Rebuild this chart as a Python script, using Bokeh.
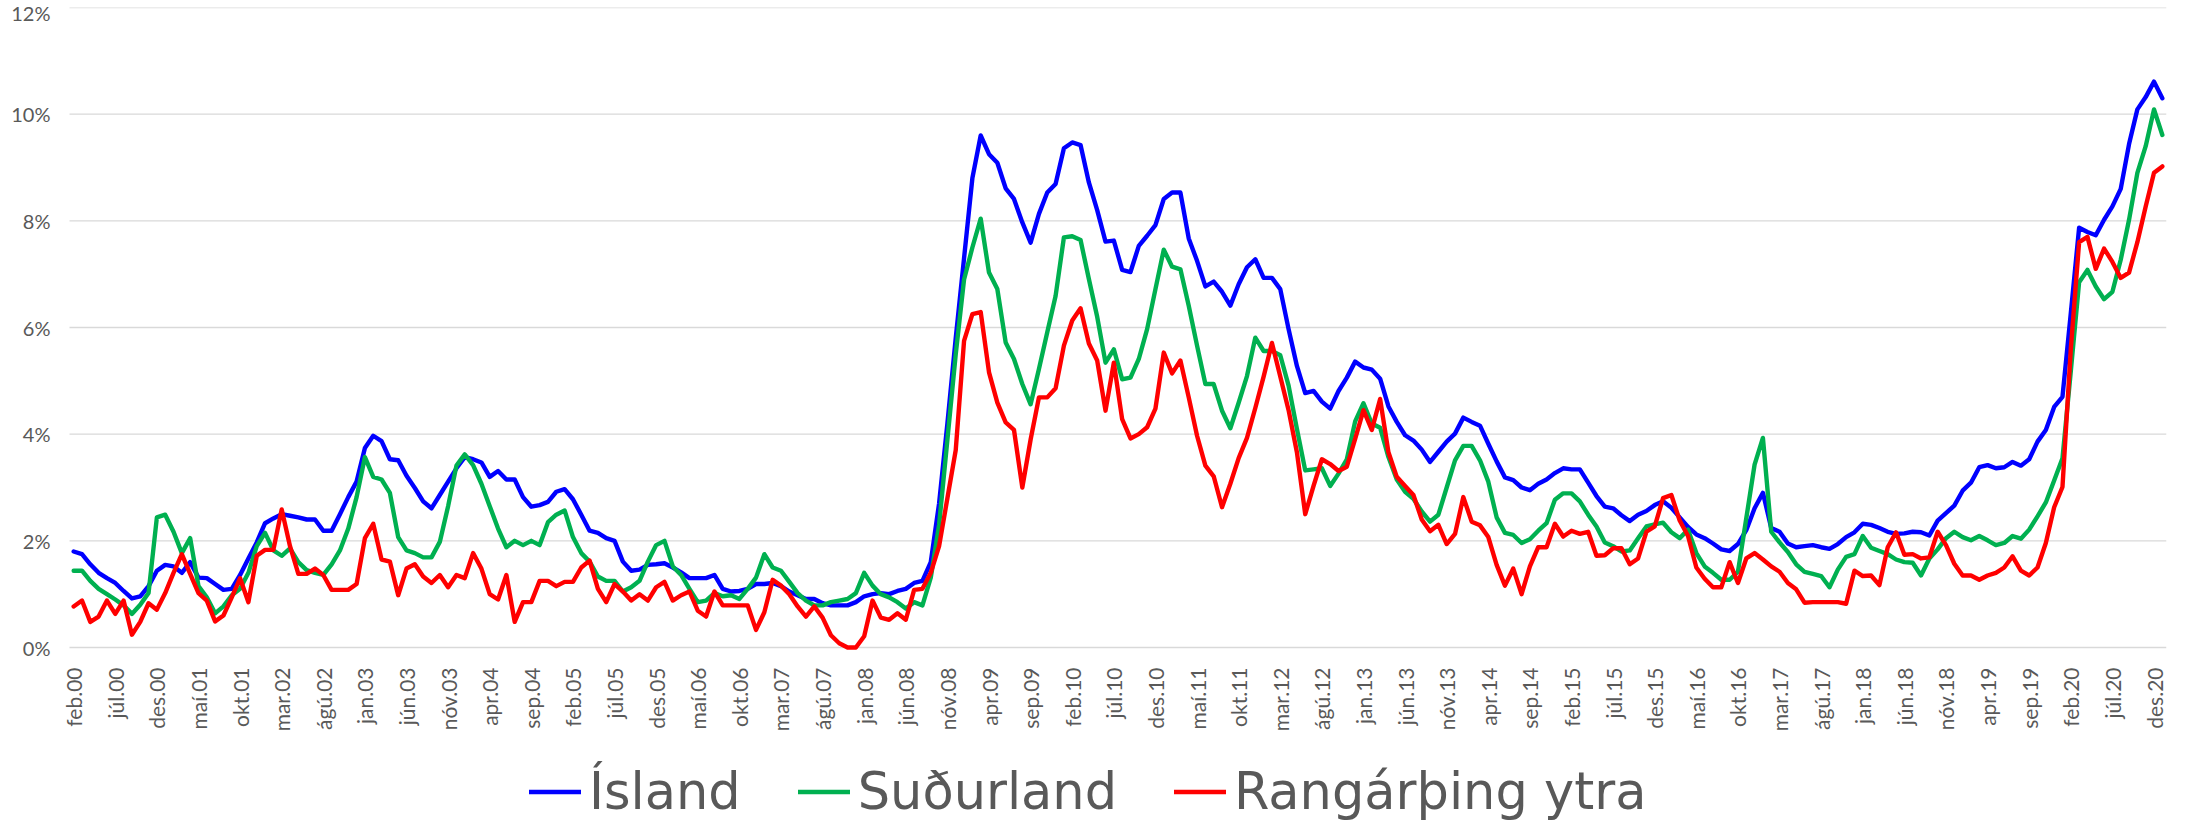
import math
from bokeh.plotting import figure
from bokeh.models import ColumnDataSource, FixedTicker, Legend, LegendItem, Range1d
from bokeh.core.properties import value
from bokeh.embed import file_html
from bokeh.resources import INLINE

# Tick labels (every 5th month, starting feb.00)
month_labels = [
    "feb.00", "júl.00", "des.00", "maí.01", "okt.01", "mar.02", "ágú.02", "jan.03",
    "jún.03", "nóv.03", "apr.04", "sep.04", "feb.05", "júl.05", "des.05", "maí.06",
    "okt.06", "mar.07", "ágú.07", "jan.08", "jún.08", "nóv.08", "apr.09", "sep.09",
    "feb.10", "júl.10", "des.10", "maí.11", "okt.11", "mar.12", "ágú.12", "jan.13",
    "jún.13", "nóv.13", "apr.14", "sep.14", "feb.15", "júl.15", "des.15", "maí.16",
    "okt.16", "mar.17", "ágú.17", "jan.18", "jún.18", "nóv.18", "apr.19", "sep.19",
    "feb.20", "júl.20", "des.20",
]
y_tick_values = [0, 2, 4, 6, 8, 10, 12]
y_tick_labels = ["0%", "2%", "4%", "6%", "8%", "10%", "12%"]

# Monthly values in %, feb.00 .. jan.21
island = [
    1.80, 1.75, 1.56, 1.40, 1.30, 1.21, 1.06, 0.92, 0.96, 1.15,
    1.44, 1.55, 1.52, 1.40, 1.60, 1.31, 1.30, 1.19, 1.08, 1.10,
    1.36, 1.67, 1.97, 2.33, 2.42, 2.50, 2.47, 2.44, 2.40, 2.40,
    2.19, 2.19, 2.50, 2.82, 3.11, 3.74, 3.97, 3.87, 3.53, 3.51,
    3.22, 2.99, 2.74, 2.61, 2.86, 3.11, 3.36, 3.57, 3.53, 3.47,
    3.20, 3.31, 3.15, 3.15, 2.82, 2.64, 2.67, 2.73, 2.92, 2.97,
    2.78, 2.49, 2.19, 2.15, 2.05, 2.00, 1.61, 1.44, 1.46, 1.55,
    1.56, 1.58, 1.50, 1.41, 1.30, 1.30, 1.30, 1.36, 1.10, 1.05,
    1.06, 1.10, 1.19, 1.19, 1.21, 1.15, 1.05, 0.98, 0.91, 0.91,
    0.83, 0.79, 0.79, 0.79, 0.85, 0.96, 1.00, 1.02, 1.00, 1.06,
    1.10, 1.21, 1.25, 1.60, 2.70, 4.20, 5.80, 7.30, 8.80, 9.60,
    9.25, 9.09, 8.61, 8.41, 7.97, 7.59, 8.13, 8.53, 8.69, 9.36,
    9.47, 9.42, 8.72, 8.20, 7.61, 7.63, 7.08, 7.04, 7.53, 7.72,
    7.92, 8.41, 8.53, 8.53, 7.67, 7.25, 6.77, 6.86, 6.67, 6.41,
    6.81, 7.13, 7.28, 6.93, 6.93, 6.72, 5.97, 5.28, 4.77, 4.81,
    4.61, 4.48, 4.81, 5.06, 5.36, 5.25, 5.21, 5.04, 4.52, 4.23,
    3.98, 3.88, 3.71, 3.48, 3.67, 3.86, 4.01, 4.31, 4.23, 4.16,
    3.82, 3.49, 3.19, 3.14, 3.00, 2.95, 3.07, 3.15, 3.27, 3.36,
    3.34, 3.34, 3.09, 2.84, 2.64, 2.61, 2.48, 2.37, 2.49, 2.56,
    2.67, 2.74, 2.62, 2.44, 2.26, 2.12, 2.05, 1.95, 1.84, 1.81,
    1.94, 2.20, 2.61, 2.90, 2.24, 2.17, 1.95, 1.88, 1.90, 1.92,
    1.88, 1.85, 1.94, 2.07, 2.16, 2.32, 2.30, 2.24, 2.17, 2.13,
    2.14, 2.17, 2.16, 2.10, 2.38, 2.52, 2.66, 2.94, 3.09, 3.38,
    3.42, 3.36, 3.38, 3.48, 3.41, 3.53, 3.86, 4.08, 4.51, 4.70,
    6.27, 7.87, 7.79, 7.73, 8.02, 8.27, 8.60, 9.44, 10.09, 10.32,
    10.61, 10.30,
]
sudurland = [
    1.44, 1.44, 1.25, 1.10, 1.00, 0.90, 0.79, 0.63, 0.80, 1.02,
    2.44, 2.49, 2.17, 1.77, 2.05, 1.15, 0.94, 0.64, 0.77, 0.98,
    1.10, 1.40, 1.90, 2.15, 1.82, 1.72, 1.86, 1.60, 1.45, 1.40,
    1.36, 1.56, 1.82, 2.23, 2.82, 3.57, 3.20, 3.15, 2.90, 2.07,
    1.82, 1.77, 1.69, 1.69, 1.98, 2.65, 3.41, 3.62, 3.42, 3.07,
    2.65, 2.23, 1.88, 2.00, 1.92, 2.00, 1.92, 2.35, 2.49, 2.57,
    2.07, 1.77, 1.61, 1.33, 1.25, 1.25, 1.05, 1.13, 1.25, 1.61,
    1.92, 2.00, 1.52, 1.36, 1.10, 0.85, 0.88, 1.02, 0.96, 0.98,
    0.91, 1.10, 1.31, 1.75, 1.50, 1.44, 1.23, 1.02, 0.88, 0.79,
    0.79, 0.85, 0.88, 0.91, 1.02, 1.40, 1.16, 1.00, 0.94, 0.85,
    0.73, 0.85, 0.79, 1.31, 2.30, 3.90, 5.50, 6.90, 7.50, 8.04,
    7.03, 6.72, 5.72, 5.41, 4.94, 4.56, 5.22, 5.91, 6.59, 7.69,
    7.71, 7.64, 6.91, 6.20, 5.34, 5.59, 5.03, 5.06, 5.41, 5.97,
    6.72, 7.46, 7.14, 7.09, 6.41, 5.66, 4.94, 4.94, 4.44, 4.11,
    4.59, 5.09, 5.81, 5.56, 5.56, 5.48, 4.91, 4.10, 3.32, 3.34,
    3.36, 3.03, 3.26, 3.53, 4.24, 4.58, 4.20, 4.12, 3.57, 3.15,
    2.92, 2.79, 2.55, 2.36, 2.49, 3.00, 3.51, 3.78, 3.78, 3.51,
    3.11, 2.44, 2.15, 2.11, 1.96, 2.03, 2.19, 2.33, 2.77, 2.89,
    2.89, 2.74, 2.49, 2.27, 1.97, 1.90, 1.80, 1.82, 2.05, 2.27,
    2.31, 2.34, 2.16, 2.05, 2.21, 1.77, 1.52, 1.40, 1.27, 1.27,
    1.42, 2.42, 3.43, 3.93, 2.17, 1.97, 1.79, 1.56, 1.42, 1.38,
    1.34, 1.13, 1.46, 1.70, 1.75, 2.09, 1.87, 1.81, 1.75, 1.65,
    1.60, 1.59, 1.35, 1.67, 1.84, 2.05, 2.17, 2.07, 2.01, 2.09,
    2.01, 1.92, 1.96, 2.09, 2.04, 2.21, 2.46, 2.72, 3.13, 3.55,
    5.18, 6.85, 7.08, 6.77, 6.53, 6.67, 7.27, 8.02, 8.90, 9.40,
    10.09, 9.61,
]
rangarthing = [
    0.77, 0.88, 0.48, 0.58, 0.88, 0.63, 0.88, 0.24, 0.48, 0.83,
    0.71, 1.02, 1.40, 1.75, 1.38, 1.02, 0.88, 0.49, 0.60, 0.94,
    1.30, 0.85, 1.72, 1.83, 1.83, 2.59, 1.90, 1.38, 1.38, 1.48,
    1.36, 1.08, 1.08, 1.08, 1.19, 2.05, 2.32, 1.65, 1.61, 0.98,
    1.48, 1.56, 1.33, 1.21, 1.36, 1.13, 1.36, 1.30, 1.77, 1.48,
    1.00, 0.90, 1.36, 0.48, 0.85, 0.85, 1.25, 1.25, 1.15, 1.23,
    1.23, 1.50, 1.63, 1.10, 0.85, 1.19, 1.05, 0.88, 1.00, 0.88,
    1.13, 1.23, 0.88, 0.98, 1.05, 0.69, 0.58, 1.05, 0.79, 0.79,
    0.79, 0.79, 0.33, 0.66, 1.27, 1.16, 1.00, 0.77, 0.58, 0.77,
    0.56, 0.23, 0.08, 0.00, 0.00, 0.21, 0.88, 0.56, 0.52, 0.64,
    0.52, 1.08, 1.10, 1.40, 1.90, 2.80, 3.70, 5.75, 6.25, 6.29,
    5.16, 4.59, 4.22, 4.08, 3.00, 3.90, 4.69, 4.69, 4.86, 5.66,
    6.13, 6.36, 5.70, 5.38, 4.44, 5.34, 4.28, 3.92, 4.00, 4.13,
    4.48, 5.53, 5.14, 5.38, 4.69, 3.97, 3.41, 3.21, 2.63, 3.07,
    3.55, 3.93, 4.49, 5.08, 5.71, 5.08, 4.45, 3.66, 2.50, 3.03,
    3.53, 3.44, 3.31, 3.39, 3.91, 4.45, 4.08, 4.66, 3.66, 3.20,
    3.03, 2.86, 2.40, 2.18, 2.30, 1.94, 2.13, 2.82, 2.36, 2.29,
    2.07, 1.55, 1.16, 1.48, 1.00, 1.52, 1.88, 1.88, 2.32, 2.08,
    2.19, 2.13, 2.17, 1.72, 1.73, 1.86, 1.86, 1.56, 1.67, 2.17,
    2.27, 2.80, 2.86, 2.38, 2.09, 1.50, 1.29, 1.13, 1.13, 1.60,
    1.21, 1.67, 1.77, 1.65, 1.52, 1.42, 1.21, 1.09, 0.84, 0.85,
    0.85, 0.85, 0.85, 0.82, 1.44, 1.34, 1.35, 1.17, 1.88, 2.16,
    1.74, 1.75, 1.67, 1.69, 2.17, 1.92, 1.57, 1.35, 1.35, 1.27,
    1.35, 1.40, 1.50, 1.71, 1.44, 1.35, 1.50, 1.96, 2.63, 3.01,
    5.60, 7.60, 7.70, 7.10, 7.48, 7.23, 6.93, 7.03, 7.60, 8.27,
    8.90, 9.02,
]

series_names = ["Ísland", "Suðurland", "Rangárþing ytra"]
series_colors = ["#0000FF", "#00B050", "#FF0000"]

n = len(island)
x = list(range(n))
src = ColumnDataSource(dict(x=x, island=island, sudurland=sudurland, rang=rangarthing))

FONT = "Lato"
LEGEND_FONT = "DejaVu Sans"
GREY = "#595959"
GRID = "#D9D9D9"

PLOT_LEFT, FRAME_LEFT, FRAME_RIGHT = 69, 52, 2166
px_per_cat = (FRAME_RIGHT - PLOT_LEFT) / n
x_lo, x_hi = -0.5, n - 0.5
x_start = x_lo - (PLOT_LEFT - FRAME_LEFT) / px_per_cat

p = figure(
    width=2170, height=823, output_backend="svg", toolbar_location=None,
    x_range=Range1d(x_start, x_hi), y_range=Range1d(-3.3, 12),
    x_axis_location=None,
    min_border_left=FRAME_LEFT, min_border_right=2170 - FRAME_RIGHT,
    min_border_top=7, min_border_bottom=0,
)
p.outline_line_color = None
p.background_fill_color = "white"
p.border_fill_color = "white"
p.xgrid.visible = False
p.ygrid.visible = False

p.segment(x0=[x_lo] * len(y_tick_values), x1=[x_hi] * len(y_tick_values),
          y0=y_tick_values, y1=y_tick_values, line_color=GRID, line_width=1.4)

p.yaxis.ticker = FixedTicker(ticks=y_tick_values)
p.yaxis.major_label_overrides = dict(zip(y_tick_values, y_tick_labels))
p.yaxis.axis_line_color = None
p.yaxis.major_tick_line_color = None
p.yaxis.minor_tick_line_color = None
p.yaxis.major_tick_in = 0
p.yaxis.major_tick_out = 0
p.yaxis.major_label_standoff = 2
p.yaxis.major_label_text_font = FONT
p.yaxis.major_label_text_font_size = "20px"
p.yaxis.major_label_text_color = GREY

tick_pos = list(range(0, n, 5))
lab_src = ColumnDataSource(dict(x=tick_pos, y=[0] * len(tick_pos), text=month_labels))
p.text(x="x", y="y", text="text", source=lab_src, angle=math.pi / 2,
       text_align="right", text_baseline="middle", y_offset=20,
       text_font=value(FONT), text_font_size="21px", text_color=GREY)

cols = ["island", "sudurland", "rang"]
renderers = []
for col, color in zip(cols, series_colors):
    r = p.line("x", col, source=src, line_color=color, line_width=4.4,
               line_join="round", line_cap="round")
    renderers.append(r)

legend = Legend(
    items=[LegendItem(label=nm, renderers=[r]) for nm, r in zip(series_names, renderers)],
    orientation="horizontal",
    location=(529 - FRAME_LEFT, 2),
    padding=0, margin=0, spacing=57,
    glyph_width=52, glyph_height=59, label_height=59, label_standoff=8,
    label_text_font=LEGEND_FONT, label_text_font_size="51px", label_text_color=GREY,
    border_line_color=None, background_fill_alpha=0,
)
p.add_layout(legend, "center")

open("out.html", "w").write(file_html(p, INLINE))
